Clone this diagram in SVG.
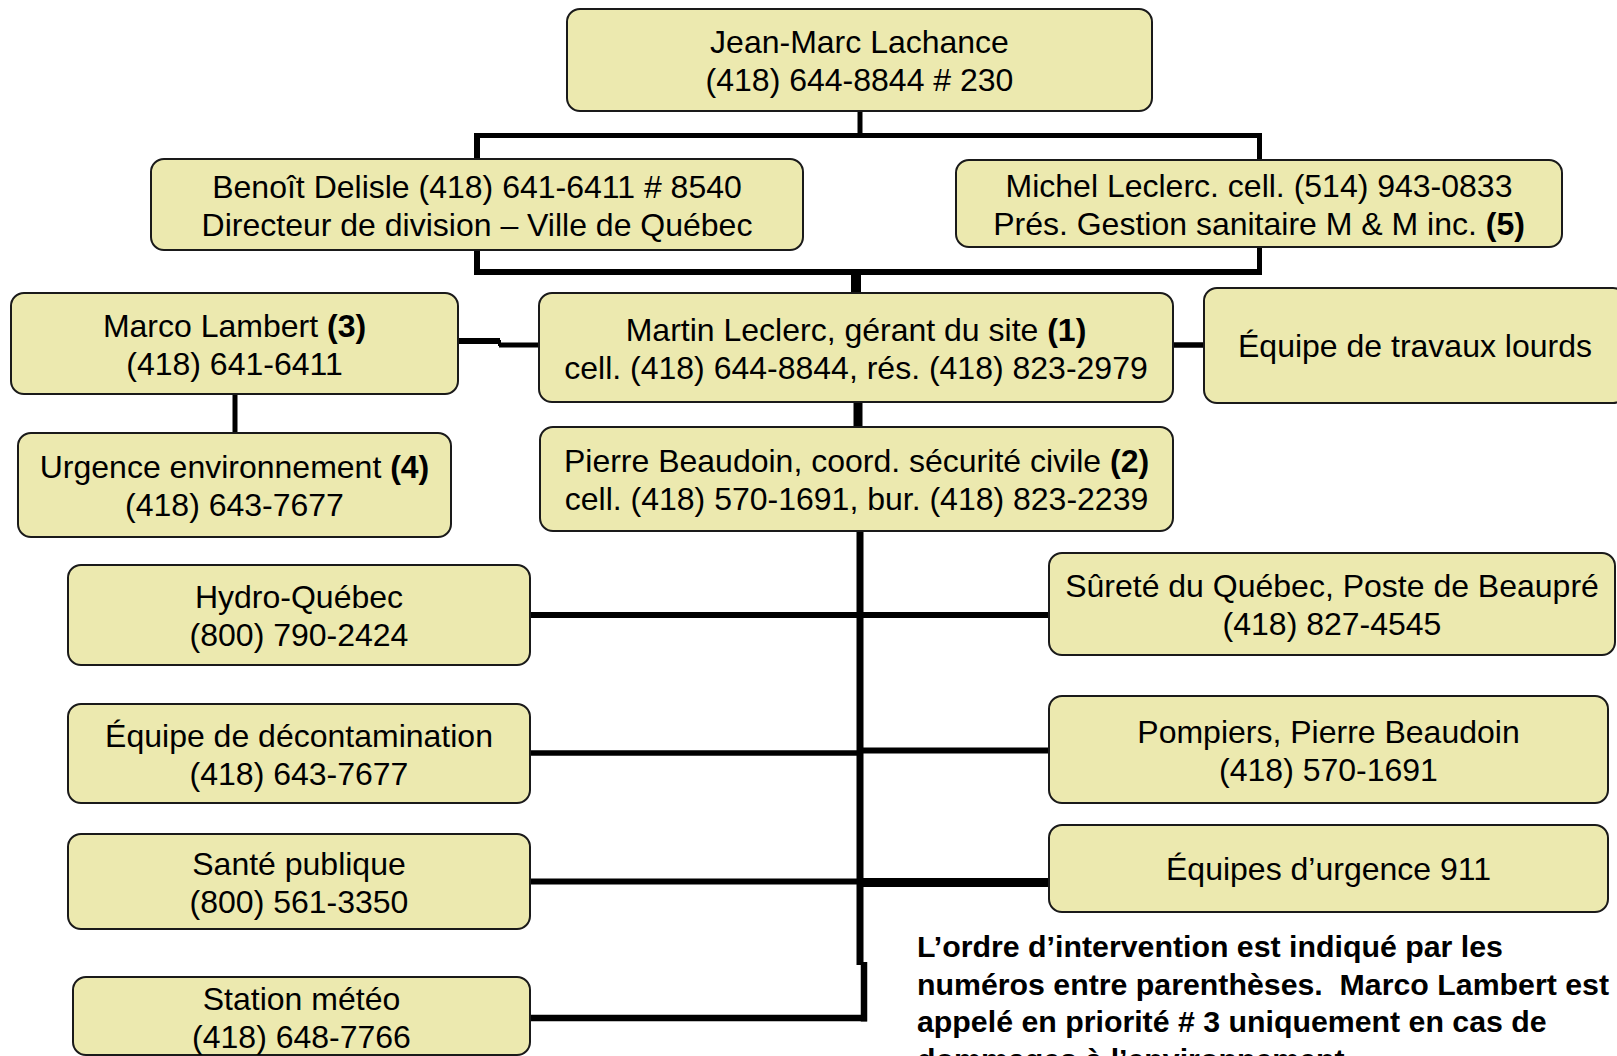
<svg xmlns="http://www.w3.org/2000/svg" width="1617" height="1056" viewBox="0 0 1617 1056">
<style>
.box{fill:#ece9af;stroke:#1a1a1a;stroke-width:2}
.t{font-family:"Liberation Sans",Arial,Helvetica,sans-serif;font-size:32px;fill:#000;text-anchor:middle}
.b{font-weight:bold}
.note{font-family:"Liberation Sans",Arial,Helvetica,sans-serif;font-size:30.3px;font-weight:bold;fill:#000}
.c{stroke:#000;fill:none;stroke-linecap:butt}
</style>
<rect width="1617" height="1056" fill="#fff"/>
<g id="connectors">
  <line class="c" x1="860" y1="111" x2="860" y2="137" stroke-width="5"/>
  <line class="c" x1="474" y1="135.5" x2="1262" y2="135.5" stroke-width="5"/>
  <line class="c" x1="477" y1="133" x2="477" y2="160" stroke-width="6"/>
  <line class="c" x1="1259.5" y1="133" x2="1259.5" y2="161" stroke-width="5"/>
  <line class="c" x1="477" y1="249" x2="477" y2="275" stroke-width="6"/>
  <line class="c" x1="1259.5" y1="246" x2="1259.5" y2="275" stroke-width="5"/>
  <line class="c" x1="474" y1="272" x2="1262" y2="272" stroke-width="6"/>
  <line class="c" x1="856" y1="270" x2="856" y2="294" stroke-width="10"/>
  <line class="c" x1="858" y1="401" x2="858" y2="428" stroke-width="9"/>
  <line class="c" x1="860" y1="530" x2="860" y2="965" stroke-width="7"/>
  <line class="c" x1="864" y1="962" x2="864" y2="1021.5" stroke-width="6.5"/>
  <polyline class="c" points="458,341 500,341" stroke-width="6"/>
  <polyline class="c" points="499,345 539,345" stroke-width="5"/>
  <line class="c" x1="499.5" y1="340" x2="499.5" y2="346" stroke-width="3"/>
  <line class="c" x1="1172" y1="345" x2="1205" y2="345" stroke-width="5.5"/>
  <line class="c" x1="235" y1="393" x2="235" y2="434" stroke-width="5"/>
  <line class="c" x1="529" y1="615" x2="1050" y2="615" stroke-width="6"/>
  <line class="c" x1="529" y1="753" x2="860" y2="753" stroke-width="5.5"/>
  <line class="c" x1="860" y1="750.5" x2="1050" y2="750.5" stroke-width="6"/>
  <line class="c" x1="529" y1="881.5" x2="860" y2="881.5" stroke-width="6"/>
  <line class="c" x1="860" y1="882.5" x2="1050" y2="882.5" stroke-width="9"/>
  <line class="c" x1="529" y1="1018" x2="867" y2="1018" stroke-width="6.5"/>
</g>
<g id="n-jeanmarc">
  <rect class="box" x="567" y="9" width="585" height="102" rx="13"/>
  <text class="t" x="859.5" y="53">Jean-Marc Lachance</text>
  <text class="t" x="859.5" y="91">(418) 644-8844 # 230</text>
</g>
<g id="n-benoit">
  <rect class="box" x="151" y="159" width="652" height="91" rx="13"/>
  <text class="t" x="477" y="197.5">Benoît Delisle (418) 641-6411 # 8540</text>
  <text class="t" x="477" y="235.5">Directeur de division – Ville de Québec</text>
</g>
<g id="n-michel">
  <rect class="box" x="956" y="160" width="606" height="87" rx="13"/>
  <text class="t" x="1259" y="196.5">Michel Leclerc. cell. (514) 943-0833</text>
  <text class="t" x="1259" y="234.5">Prés. Gestion sanitaire M &amp; M inc. <tspan class="b">(5)</tspan></text>
</g>
<g id="n-marco">
  <rect class="box" x="11" y="293" width="447" height="101" rx="13"/>
  <text class="t" x="234.5" y="336.5">Marco Lambert <tspan class="b">(3)</tspan></text>
  <text class="t" x="234.5" y="374.5">(418) 641-6411</text>
</g>
<g id="n-martin">
  <rect class="box" x="539" y="293" width="634" height="109" rx="13"/>
  <text class="t" x="856" y="340.5">Martin Leclerc, gérant du site <tspan class="b">(1)</tspan></text>
  <text class="t" x="856" y="378.5">cell. (418) 644-8844, rés. (418) 823-2979</text>
</g>
<g id="n-travaux">
  <rect class="box" x="1204" y="288" width="422" height="115" rx="13"/>
  <text class="t" x="1415" y="357">Équipe de travaux lourds</text>
</g>
<g id="n-urgence">
  <rect class="box" x="18" y="433" width="433" height="104" rx="13"/>
  <text class="t" x="234.5" y="478">Urgence environnement <tspan class="b">(4)</tspan></text>
  <text class="t" x="234.5" y="516">(418) 643-7677</text>
</g>
<g id="n-pierre">
  <rect class="box" x="540" y="427" width="633" height="104" rx="13"/>
  <text class="t" x="856.5" y="472">Pierre Beaudoin, coord. sécurité civile <tspan class="b">(2)</tspan></text>
  <text class="t" x="856.5" y="510">cell. (418) 570-1691, bur. (418) 823-2239</text>
</g>
<g id="n-hydro">
  <rect class="box" x="68" y="565" width="462" height="100" rx="13"/>
  <text class="t" x="299" y="608">Hydro-Québec</text>
  <text class="t" x="299" y="646">(800) 790-2424</text>
</g>
<g id="n-surete">
  <rect class="box" x="1049" y="553" width="566" height="102" rx="13"/>
  <text class="t" x="1332" y="597">Sûreté du Québec, Poste de Beaupré</text>
  <text class="t" x="1332" y="635">(418) 827-4545</text>
</g>
<g id="n-decontamination">
  <rect class="box" x="68" y="704" width="462" height="99" rx="13"/>
  <text class="t" x="299" y="746.5">Équipe de décontamination</text>
  <text class="t" x="299" y="784.5">(418) 643-7677</text>
</g>
<g id="n-pompiers">
  <rect class="box" x="1049" y="696" width="559" height="107" rx="13"/>
  <text class="t" x="1328.5" y="742.5">Pompiers, Pierre Beaudoin</text>
  <text class="t" x="1328.5" y="780.5">(418) 570-1691</text>
</g>
<g id="n-sante">
  <rect class="box" x="68" y="834" width="462" height="95" rx="13"/>
  <text class="t" x="299" y="874.5">Santé publique</text>
  <text class="t" x="299" y="912.5">(800) 561-3350</text>
</g>
<g id="n-911">
  <rect class="box" x="1049" y="825" width="559" height="87" rx="13"/>
  <text class="t" x="1328.5" y="880">Équipes d’urgence 911</text>
</g>
<g id="n-station">
  <rect class="box" x="73" y="977" width="457" height="78" rx="13"/>
  <text class="t" x="301.5" y="1009.5">Station météo</text>
  <text class="t" x="301.5" y="1047.5">(418) 648-7766</text>
</g>
<g id="note">
  <text class="note" x="917" y="957">L’ordre d’intervention est indiqué par les</text>
  <text class="note" x="917" y="994.5">numéros entre parenthèses.&#160; Marco Lambert est</text>
  <text class="note" x="917" y="1032">appelé en priorité # 3 uniquement en cas de</text>
  <text class="note" x="917" y="1069.5">dommages à l’environnement</text>
</g>
</svg>
